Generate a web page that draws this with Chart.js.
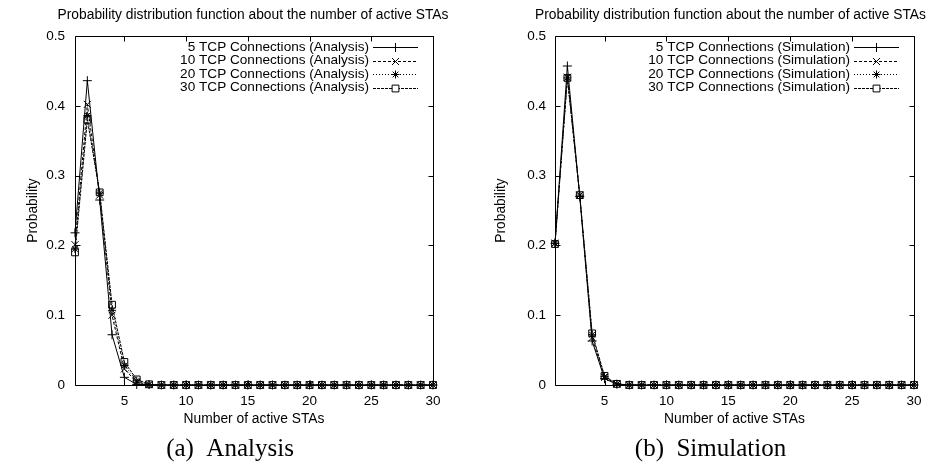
<!DOCTYPE html>
<html>
<head>
<meta charset="utf-8">
<script src="https://cdn.jsdelivr.net/npm/chart.js@4/dist/chart.umd.min.js"></script>
<style>
  html, body { margin: 0; padding: 0; background: #fff; }
  #wrap { position: relative; width: 931px; height: 464px; }
  .panel { position: absolute; top: 0; width: 465px; height: 464px; }
  canvas { display: block; }
</style>
</head>
<body>
<div id="wrap">
  <div class="panel" style="left:0"><canvas id="chartAnalysis" width="465" height="464"></canvas></div>
  <div class="panel" style="left:466px"><canvas id="chartSimulation" width="465" height="464"></canvas></div>
</div>
<script>
// Number of active STAs (x axis)
const stations = [1,2,3,4,5,6,7,8,9,10,11,12,13,14,15,16,17,18,19,20,21,22,23,24,25,26,27,28,29,30];
const xTicks = [5, 10, 15, 20, 25, 30];
const yTicks = [0, 0.1, 0.2, 0.3, 0.4, 0.5];
const connections = [5, 10, 20, 30];

// Probability of each number of active STAs, analytical model
const analysis5  = [0.218,0.436,0.265,0.072,0.011,0.0008,0.0006,0,0,0,0,0,0,0,0,0,0,0,0,0,0,0,0,0,0,0,0,0,0,0];
const analysis10 = [0.201,0.402,0.272,0.100,0.023,0.004,0.0005,0,0,0,0,0,0,0,0,0,0,0,0,0,0,0,0,0,0,0,0,0,0,0];
const analysis20 = [0.195,0.386,0.275,0.107,0.028,0.006,0.0008,0,0,0,0,0,0,0,0,0,0,0,0,0,0,0,0,0,0,0,0,0,0,0];
const analysis30 = [0.190,0.380,0.276,0.115,0.033,0.008,0.001,0,0,0,0,0,0,0,0,0,0,0,0,0,0,0,0,0,0,0,0,0,0,0];

// Probability of each number of active STAs, simulation results
const sim5  = [0.203,0.457,0.270,0.063,0.009,0.0012,0,0,0,0,0,0,0,0,0,0,0,0,0,0,0,0,0,0,0,0,0,0,0,0];
const sim10 = [0.203,0.441,0.272,0.068,0.011,0.0015,0,0,0,0,0,0,0,0,0,0,0,0,0,0,0,0,0,0,0,0,0,0,0,0];
const sim20 = [0.203,0.440,0.272,0.072,0.012,0.0015,0,0,0,0,0,0,0,0,0,0,0,0,0,0,0,0,0,0,0,0,0,0,0,0];
const sim30 = [0.202,0.440,0.272,0.074,0.013,0.0016,0,0,0,0,0,0,0,0,0,0,0,0,0,0,0,0,0,0,0,0,0,0,0,0];

const SANS = '"Liberation Sans", Arial, Helvetica, sans-serif';
const SERIF = '"Liberation Serif", "Times New Roman", serif';

// line style and marker for each connection count
const seriesStyle = [
  { dash: [],     point: 'cross',    radius: 4.5 },
  { dash: [3, 2], point: 'crossRot', radius: 5 },
  { dash: [1, 2], point: 'star',     radius: 4 },
  { dash: [3, 1], point: 'rect',     radius: 4.8 }
];

function toPoints(values) {
  return stations.map((s, i) => ({ x: s, y: values[i] }));
}

// box, inward ticks, title, key and caption
const framePlugin = {
  id: 'frame',
  afterDatasetsDraw(chart, args, opts) {
    const ctx = chart.ctx;
    const a = chart.chartArea;
    const xs = chart.scales.x, ys = chart.scales.y;
    ctx.save();
    ctx.strokeStyle = '#000';
    ctx.lineWidth = 1;
    ctx.setLineDash([]);
    const L = Math.round(a.left) + 0.5, R = Math.round(a.right) + 0.5;
    const T = Math.round(a.top) + 0.5, B = Math.round(a.bottom) + 0.5;
    ctx.beginPath();
    ctx.rect(L, T, R - L, B - T);
    const tl = 5;
    xTicks.forEach(v => {
      const px = Math.round(xs.getPixelForValue(v)) + 0.5;
      ctx.moveTo(px, B); ctx.lineTo(px, B - tl);
      ctx.moveTo(px, T); ctx.lineTo(px, T + tl);
    });
    yTicks.forEach(v => {
      const py = Math.round(ys.getPixelForValue(v)) + 0.5;
      ctx.moveTo(L, py); ctx.lineTo(L + tl, py);
      ctx.moveTo(R, py); ctx.lineTo(R - tl, py);
    });
    ctx.stroke();

    // plot title
    ctx.fillStyle = '#000';
    ctx.font = '13.8px ' + SANS;
    ctx.textAlign = 'center';
    ctx.textBaseline = 'middle';
    ctx.fillText(opts.title, (a.left + a.right) / 2 + opts.titleShift, 15);

    // key
    ctx.font = '13.6px ' + SANS;
    ctx.textAlign = 'right';
    const sx1 = a.right - 15, sx0 = a.right - 60, tx = a.right - 64;
    chart.data.datasets.forEach((ds, i) => {
      const y = 47 + i * 13.5;
      ctx.fillStyle = '#000';
      ctx.fillText(ds.label, tx, y);
      ctx.setLineDash(ds.borderDash);
      ctx.beginPath();
      ctx.moveTo(sx0, Math.round(y) + 0.5);
      ctx.lineTo(sx1, Math.round(y) + 0.5);
      ctx.stroke();
      ctx.setLineDash([]);
      ctx.fillStyle = '#fff';
      Chart.helpers.drawPoint(ctx, {
        pointStyle: ds.pointStyle, radius: ds.pointRadius, rotation: 0, borderWidth: 1
      }, (sx0 + sx1) / 2, Math.round(y) + 0.5);
    });

    // sub-figure caption
    ctx.fillStyle = '#000';
    ctx.font = '25px ' + SERIF;
    ctx.textAlign = 'center';
    ctx.fillText(opts.caption, (a.left + a.right) / 2 - 24, 449);
    ctx.restore();
  }
};

function makeChart(canvasId, seriesList, suffix, caption, yWidth, padRight, yTitlePad, yTickPad, titleShift) {
  const datasets = seriesList.map((vals, i) => ({
    label: connections[i] + ' TCP Connections (' + suffix + ')',
    data: toPoints(vals),
    borderColor: '#000',
    backgroundColor: 'rgba(0,0,0,0)',
    borderWidth: 1,
    borderDash: seriesStyle[i].dash,
    pointStyle: seriesStyle[i].point,
    pointRadius: seriesStyle[i].radius,
    pointBorderColor: '#000',
    pointBackgroundColor: 'rgba(0,0,0,0)',
    pointBorderWidth: 1,
    tension: 0,
    clip: false,
    order: seriesList.length - 1 - i
  }));

  return new Chart(document.getElementById(canvasId), {
    type: 'line',
    data: { datasets },
    options: {
      responsive: false,
      animation: false,
      devicePixelRatio: 1,
      layout: { padding: { left: 0, right: padRight, top: 36, bottom: 34 } },
      plugins: {
        legend: { display: false },
        tooltip: { enabled: false },
        frame: { title: 'Probability distribution function about the number of active STAs', caption, titleShift }
      },
      scales: {
        x: {
          type: 'linear',
          min: 1, max: 30,
          grid: { display: false },
          border: { display: false },
          afterBuildTicks: s => { s.ticks = xTicks.map(v => ({ value: v })); },
          afterFit: s => { s.height = 45; },
          ticks: { color: '#000', font: { family: SANS, size: 13.5 }, padding: 0, maxRotation: 0, autoSkip: false },
          title: { display: true, text: 'Number of active STAs', color: '#000', font: { family: SANS, size: 13.8 }, padding: { top: 0, bottom: 3 } }
        },
        y: {
          type: 'linear',
          min: 0, max: 0.5,
          grid: { display: false },
          border: { display: false },
          afterBuildTicks: s => { s.ticks = yTicks.map(v => ({ value: v })); },
          afterFit: s => { s.width = yWidth; },
          ticks: { color: '#000', font: { family: SANS, size: 13.5 }, padding: yTickPad, callback: v => String(Math.round(v * 10) / 10) },
          title: { display: true, text: 'Probability', color: '#000', font: { family: SANS, size: 13.8 }, padding: { top: yTitlePad, bottom: 0 } }
        }
      }
    },
    plugins: [framePlugin]
  });
}

makeChart('chartAnalysis', [analysis5, analysis10, analysis20, analysis30], 'Analysis', '(a)  Analysis', 75, 32, 25, 2, -1);
makeChart('chartSimulation', [sim5, sim10, sim20, sim30], 'Simulation', '(b)  Simulation', 89, 17, 27, 1, -4);
</script>
</body>
</html>
